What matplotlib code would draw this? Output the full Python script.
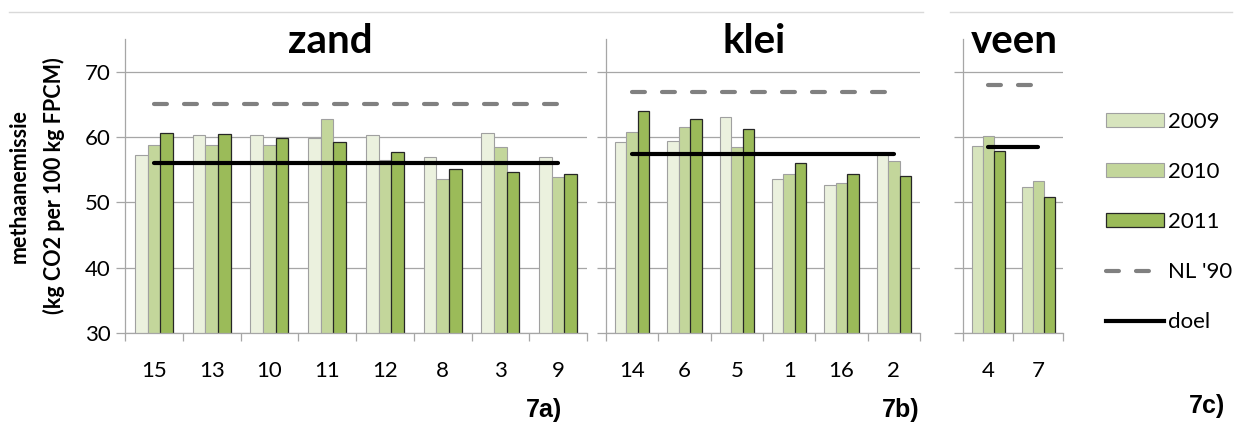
import matplotlib
matplotlib.use('Agg')
import matplotlib.pyplot as plt
import numpy as np
from matplotlib.patches import Patch
from matplotlib.lines import Line2D

# ── data ─────────────────────────────────────────────────────────────
zand_bedrijf = ['15', '13', '10', '11', '12', '8', '3', '9']
zand_2009 = [57.3, 60.3, 60.3, 59.9, 60.3, 57.0, 60.6, 56.9]
zand_2010 = [58.7, 58.8, 58.7, 62.7, 56.5, 53.6, 58.4, 53.9]
zand_2011 = [60.6, 60.4, 59.8, 59.2, 57.7, 55.1, 54.7, 54.4]

klei_bedrijf = ['14', '6', '5', '1', '16', '2']
klei_2009 = [59.2, 59.4, 63.0, 53.6, 52.7, 57.4]
klei_2010 = [60.7, 61.6, 58.5, 54.3, 52.9, 56.3]
klei_2011 = [64.0, 62.8, 61.2, 56.0, 54.3, 54.1]

veen_bedrijf = ['4', '7']
veen_2009 = [58.6, 52.4]
veen_2010 = [60.2, 53.2]
veen_2011 = [57.8, 50.8]

grondsoort = ['zand', 'klei', 'veen']
nl90 = [65.1, 66.9, 67.9]
doel = [56.0, 57.4, 58.45]
paneel_label = ['7a)', '7b)', '7c)']

# ── layout (pixels) ──────────────────────────────────────────────────
W, H = 1238, 425
fig = plt.figure(figsize=(W / 100, H / 100), dpi=100, facecolor='white')

def fx(px):
    return px / W

def fy(py):
    return 1 - py / H

ax_top, ax_bot = 39, 333
panels = [
    (125, 587, zand_bedrijf, zand_2009, zand_2010, zand_2011, '#EBF1DE'),
    (606, 920, klei_bedrijf, klei_2009, klei_2010, klei_2011, '#EBF1DE'),
    (963, 1063, veen_bedrijf, veen_2009, veen_2010, veen_2011, '#D7E4BD'),
]
titel_x = [330, 754, 1014]
label_pos = [(562, 410), (920, 410), (1225, 406)]

grid_col = '#A6A6A6'
FONT = 'Lato'
bw = 0.22

for i, (x0, x1, cats, v09, v10, v11, c09) in enumerate(panels):
    ax = fig.add_axes([fx(x0), fy(ax_bot), fx(x1 - x0), fy(ax_top) - fy(ax_bot)])
    n = len(cats)
    x = np.arange(n)
    ax.bar(x - bw, v09, bw, color=c09, edgecolor='#A0A0A0', linewidth=0.8, zorder=2)
    ax.bar(x, v10, bw, color='#C3D69B', edgecolor='#A0A0A0', linewidth=0.8, zorder=2)
    ax.bar(x + bw, v11, bw, color='#9BBB59', edgecolor='#262626', linewidth=0.9, zorder=2)
    ax.hlines(nl90[i], 0, n - 1, colors='#808080', linewidth=3,
              linestyles=(0, (3.1, 4.1)), capstyle='round', zorder=3)
    ax.plot([0, n - 1], [doel[i], doel[i]], color='black', linewidth=3,
            solid_capstyle='round', zorder=4)

    ax.set_xlim(-0.5, n - 0.5)
    ax.set_ylim(30, 75)
    ax.set_yticks([30, 40, 50, 60, 70])
    ax.yaxis.grid(True, color=grid_col, linewidth=0.9, zorder=0)
    ax.set_axisbelow(True)
    ax.tick_params(axis='y', direction='out', length=6.5, width=0.9,
                   color=grid_col, labelsize=16, pad=4)
    for t in ax.get_yticklabels():
        t.set_fontfamily(FONT)
    if i > 0:
        ax.tick_params(axis='y', labelleft=False)

    # category boundaries get tick marks, names sit at centres
    ax.set_xticks(np.arange(n + 1) - 0.5)
    ax.set_xticklabels([])
    ax.set_xticks(x, minor=True)
    ax.set_xticklabels(cats, minor=True, fontsize=16, fontfamily=FONT)
    ax.tick_params(axis='x', which='major', direction='out', length=6,
                   width=0.9, color=grid_col)
    ax.tick_params(axis='x', which='minor', length=0, pad=20)

    for s in ('top', 'right'):
        ax.spines[s].set_visible(False)
    for s in ('left', 'bottom'):
        ax.spines[s].set_color(grid_col)
        ax.spines[s].set_linewidth(0.9)

    fig.text(fx(titel_x[i]), fy(53), grondsoort[i], ha='center', va='baseline',
             fontsize=29, fontweight='bold', fontfamily=FONT)
    lx, ly = label_pos[i]
    fig.text(fx(lx), fy(ly), paneel_label[i], ha='right', va='center',
             fontsize=18, fontweight='bold', fontfamily='Liberation Sans')

# y-as titel
fig.text(fx(19), fy(186), 'methaanemissie', rotation=90, ha='center',
         va='center', fontsize=15.5, fontweight='bold', fontfamily=FONT)
fig.text(fx(54), fy(186), '(kg CO2 per 100 kg FPCM)', rotation=90,
         ha='center', va='center', fontsize=15.5, fontweight='bold',
         fontfamily=FONT)

# lichte kaderlijnen bovenaan
fig.add_artist(Line2D([fx(9), fx(923)], [fy(12), fy(12)], color='#D9D9D9', linewidth=1))
fig.add_artist(Line2D([fx(950), fx(1232)], [fy(12), fy(12)], color='#D9D9D9', linewidth=1))

handles = [
    Patch(facecolor='#D7E4BD', edgecolor='#A0A0A0', linewidth=0.8),
    Patch(facecolor='#C3D69B', edgecolor='#A0A0A0', linewidth=0.8),
    Patch(facecolor='#9BBB59', edgecolor='#262626', linewidth=0.9),
    Line2D([], [], color='#808080', linewidth=3, linestyle=(0, (3.1, 4.1)),
           dash_capstyle='round'),
    Line2D([], [], color='black', linewidth=3),
]
fig.legend(handles, ['2009', '2010', '2011', "NL '90", 'doel'],
           loc='center left', bbox_to_anchor=(fx(1106), fy(222)),
           frameon=False, borderpad=0, borderaxespad=0, handlelength=2.6,
           handleheight=0.6, handletextpad=0.2, labelspacing=1.35,
           prop={'family': FONT, 'size': 16})

fig.savefig('out.png', dpi=100, facecolor='white')
